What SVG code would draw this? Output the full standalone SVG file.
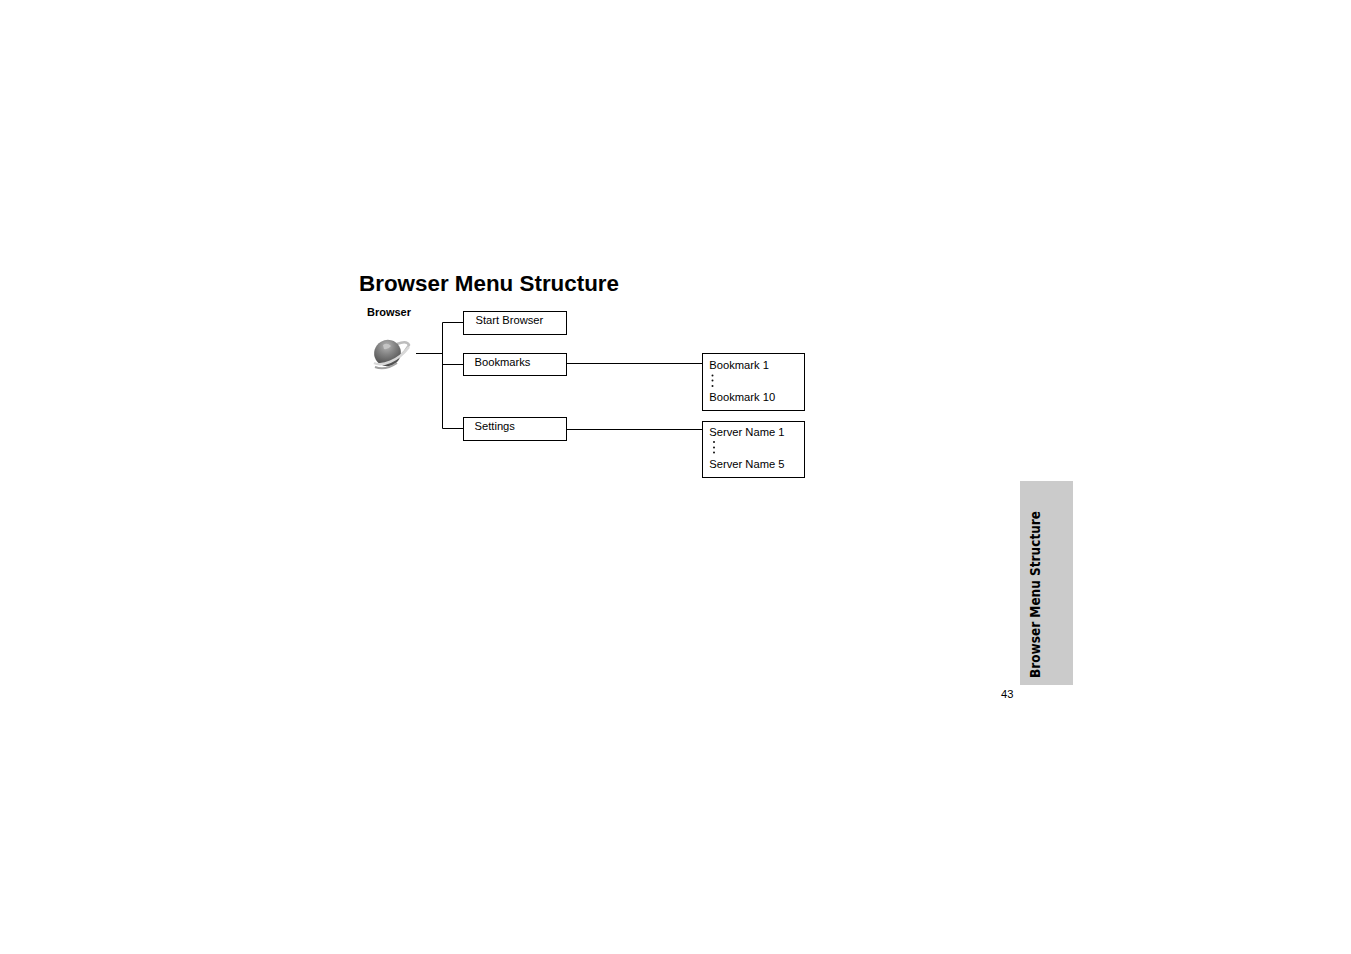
<svg xmlns="http://www.w3.org/2000/svg" width="1351" height="954" viewBox="0 0 1351 954">
<style>
text{font-family:"Liberation Sans",Arial,sans-serif;fill:#000}
.l{font-size:11.2px}
.box{fill:#fff;stroke:#000;stroke-width:1}
.c{fill:none;stroke:#000;stroke-width:1}
.d{fill:#111}
</style>
<defs>
<radialGradient id="pl" cx="0.6" cy="0.25" r="0.8"><stop offset="0" stop-color="#b4b4b4"/><stop offset="0.4" stop-color="#848484"/><stop offset="1" stop-color="#444"/></radialGradient>
</defs>
<rect width="1351" height="954" fill="#fff"/>
<text id="title" x="359" y="291" font-size="22.4px" font-weight="bold">Browser Menu Structure</text>
<g id="connectors">
<path class="c" d="M416 353.500H442.500M442.500 322.500V428.500M442.500 322.500H463M442.500 364.500H463M442.500 428.500H463M567 363.500H702M567 429.500H702"/>
</g>
<g id="browser">
<text x="367" y="316" font-size="11px" font-weight="bold">Browser</text>
<g id="planet-icon">
<path d="M397 344Q407 340 409 345Q405 352 399 357" fill="none" stroke="#bdbdbd" stroke-width="2.500"/>
<ellipse cx="387.500" cy="353" rx="13.500" ry="13" fill="url(#pl)" transform="rotate(-30 387.500 353)"/>
<path d="M383 345Q387 342 391 346Q388 350 384 349Z" fill="#c4c4c4"/>
<path d="M374 363C382 367 398 361 409 347" fill="none" stroke="#d8d8d8" stroke-width="2.500"/>
<path d="M375 367Q385 371 397 363" fill="none" stroke="#a0a0a0" stroke-width="2"/>
</g>
</g>
<g id="start-browser">
<rect class="box" x="463.500" y="311.500" width="103" height="23"/>
<text class="l" x="475.500" y="324">Start Browser</text>
</g>
<g id="bookmarks">
<rect class="box" x="463.500" y="353.500" width="103" height="22"/>
<text class="l" x="474.500" y="366">Bookmarks</text>
</g>
<g id="settings">
<rect class="box" x="463.500" y="417.500" width="103" height="23"/>
<text class="l" x="474.500" y="430">Settings</text>
</g>
<g id="bookmark-list">
<rect class="box" x="702.500" y="353.500" width="102" height="57"/>
<text class="l" x="709.300" y="369">Bookmark 1</text>
<circle class="d" cx="712.500" cy="375.500" r="1"/><circle class="d" cx="712.500" cy="380.500" r="1"/><circle class="d" cx="712.500" cy="386" r="1"/>
<text class="l" x="709.300" y="401">Bookmark 10</text>
</g>
<g id="server-list">
<rect class="box" x="702.500" y="421.500" width="102" height="56"/>
<text class="l" x="709.300" y="436">Server Name 1</text>
<circle class="d" cx="714" cy="442" r="1"/><circle class="d" cx="714" cy="447.500" r="1"/><circle class="d" cx="714" cy="452.500" r="1"/>
<text class="l" x="709.300" y="468">Server Name 5</text>
</g>
<g id="side-tab">
<rect x="1020" y="481" width="53" height="204" fill="#cbcbcb"/>
<text transform="translate(1040 678) rotate(-90)" font-size="14px" font-weight="bold" textLength="167" lengthAdjust="spacingAndGlyphs" style="font-family:'DejaVu Sans',sans-serif">Browser Menu Structure</text>
</g>
<text id="page-number" x="1001" y="698" font-size="11.2px">43</text>
</svg>
